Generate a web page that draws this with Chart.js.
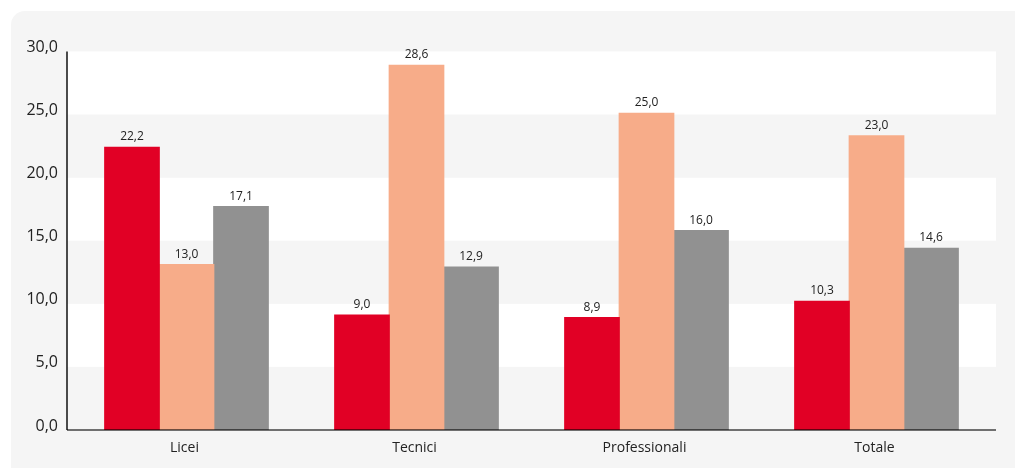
<!DOCTYPE html>
<html lang="it">
<head>
<meta charset="utf-8">
<title>Licei, Tecnici, Professionali</title>
<script src="https://cdn.jsdelivr.net/npm/chart.js@4/dist/chart.umd.min.js"></script>
<style>
  html, body { margin: 0; padding: 0; background: #fff; }
  #wrap { width: 1015px; height: 468px; position: relative; }
</style>
</head>
<body>
<div id="wrap"><canvas id="chart"></canvas></div>
<script>
/* global Chart */
const categories = ['Licei', 'Tecnici', 'Professionali', 'Totale'];

// bar heights as drawn in the picture
const seriesRed = [22.4, 9.1, 8.9, 10.2];
const seriesSalmon = [13.1, 28.9, 25.1, 23.3];
const seriesGray = [17.7, 12.9, 15.8, 14.4];

// printed value labels
const labelsRed = ['22,2', '9,0', '8,9', '10,3'];
const labelsSalmon = ['13,0', '28,6', '25,0', '23,0'];
const labelsGray = ['17,1', '12,9', '16,0', '14,6'];

const yTicks = [0, 5, 10, 15, 20, 25, 30];
const yTickLabels = ['0,0', '5,0', '10,0', '15,0', '20,0', '25,0', '30,0'];

(function () {
  'use strict';

  const FONT = '"Open Sans", "Noto Sans", sans-serif';
  const TEXT = '#222';
  const EXTRA = 4.5; // bands and axis stick out past the categories

  const backdrop = {
    id: 'backdrop',
    beforeDraw: function (chart) {
      const ctx = chart.ctx;
      const area = chart.chartArea;
      const y = chart.scales.y;
      ctx.save();
      ctx.fillStyle = '#fff';
      ctx.fillRect(0, 0, chart.width, chart.height);

      ctx.fillStyle = '#f5f5f5';
      ctx.beginPath();
      ctx.roundRect(11, 11, chart.width + 20, chart.height + 20, 14);
      ctx.fill();

      // alternating bands
      for (let i = 0; i < yTicks.length - 1; i++) {
        const top = y.getPixelForValue(yTicks[i + 1]);
        const bottom = y.getPixelForValue(yTicks[i]);
        ctx.fillStyle = i % 2 === 1 ? '#ffffff' : '#f5f5f5';
        ctx.fillRect(area.left - EXTRA, top, area.right - area.left + EXTRA * 2, bottom - top);
      }

      // y tick labels, baseline on the line
      ctx.fillStyle = TEXT;
      ctx.font = '16px ' + FONT;
      ctx.textAlign = 'right';
      ctx.textBaseline = 'alphabetic';
      yTicks.forEach(function (v, i) {
        ctx.fillText(yTickLabels[i], area.left - 13.5, y.getPixelForValue(v) + 0.5);
      });

      // x labels
      ctx.font = '14px ' + FONT;
      ctx.textAlign = 'center';
      categories.forEach(function (c, i) {
        ctx.fillText(c, chart.scales.x.getPixelForValue(i) - 2, area.bottom + 21.5);
      });
      ctx.restore();
    },
    afterDatasetsDraw: function (chart) {
      const ctx = chart.ctx;
      const area = chart.chartArea;
      const y = chart.scales.y;
      ctx.save();

      // axes
      ctx.strokeStyle = '#111';
      ctx.lineWidth = 1.5;
      ctx.beginPath();
      ctx.moveTo(area.left - EXTRA, y.getPixelForValue(30));
      ctx.lineTo(area.left - EXTRA, area.bottom);
      ctx.stroke();

      ctx.strokeStyle = 'rgba(0, 0, 0, 0.55)';
      ctx.lineWidth = 2;
      ctx.beginPath();
      ctx.moveTo(area.left - EXTRA, area.bottom);
      ctx.lineTo(area.right + EXTRA, area.bottom);
      ctx.stroke();

      // value labels above the bars
      ctx.fillStyle = TEXT;
      ctx.font = '12px ' + FONT;
      ctx.textAlign = 'center';
      ctx.textBaseline = 'alphabetic';
      chart.data.datasets.forEach(function (ds, di) {
        chart.getDatasetMeta(di).data.forEach(function (bar, i) {
          ctx.fillText(ds.valueLabels[i], bar.x, bar.y - 7);
        });
      });
      ctx.restore();
    },
  };

  function dataset(label, data, valueLabels, color) {
    return {
      label: label,
      data: data,
      valueLabels: valueLabels,
      backgroundColor: color,
      borderWidth: 0,
      inflateAmount: 0.6,
      barPercentage: 1,
      categoryPercentage: 0.711,
    };
  }

  new Chart(document.getElementById('chart'), {
    type: 'bar',
    data: {
      labels: categories,
      datasets: [
        dataset('A', seriesRed, labelsRed, '#e10025'),
        dataset('B', seriesSalmon, labelsSalmon, '#f7ac89'),
        dataset('C', seriesGray, labelsGray, '#919191'),
      ],
    },
    options: {
      responsive: true,
      maintainAspectRatio: false,
      animation: false,
      layout: { padding: { left: 71.5, top: 51.4, right: 23.5, bottom: 38 } },
      plugins: {
        legend: { display: false },
        tooltip: { enabled: false },
      },
      scales: {
        x: { display: false },
        y: { display: false, min: 0, max: 30 },
      },
    },
    plugins: [backdrop],
  });
})();
</script>
</body>
</html>
